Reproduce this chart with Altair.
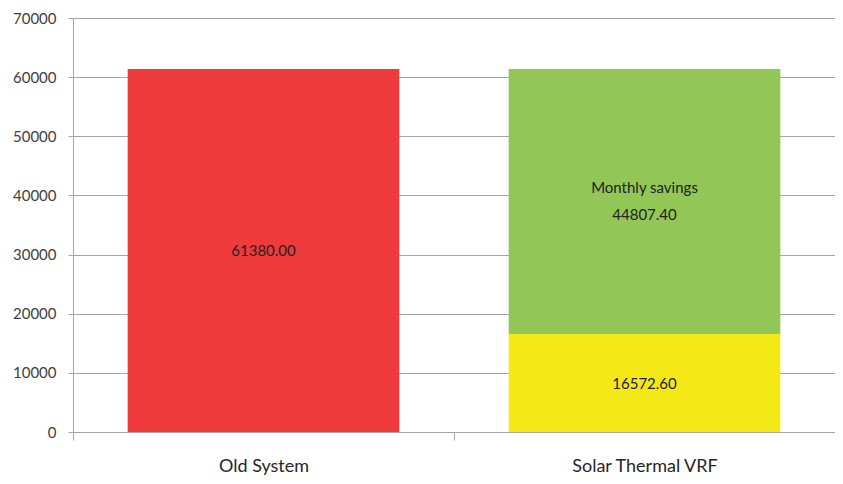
import altair as alt
import pandas as pd

categories = ["Old System", "Solar Thermal VRF", "Solar Thermal VRF"]
segments = ["Old cost", "New cost", "Monthly savings"]
values = [61380.00, 16572.60, 44807.40]
labels = ["61380.00", "16572.60", "Monthly savings\n44807.40"]
stack_order = [0, 0, 1]
seg_colors = ["#EF3B3C", "#F4E917", "#92C657"]
y_ticks = [0, 10000, 20000, 30000, 40000, 50000, 60000, 70000]

df = pd.DataFrame({
    "category": categories,
    "segment": segments,
    "value": values,
    "label": labels,
    "ord": stack_order,
})

FONT = "Lato"
CAT_ORDER = ["Old System", "Solar Thermal VRF"]

base = alt.Chart(df).transform_stack(
    stack="value", groupby=["category"], as_=["y0", "y1"],
    sort=[alt.SortField("ord", order="ascending")],
).transform_calculate(mid="(datum.y0 + datum.y1) / 2")

x_scale = alt.Scale(domain=CAT_ORDER, paddingInner=0, paddingOuter=0)
y_scale = alt.Scale(domain=[0, 70000], nice=False)

bars = base.mark_bar(width=alt.RelativeBandSize(0.713)).encode(
    x=alt.X(
        "category:N", scale=x_scale,
        axis=alt.Axis(
            title=None, labelAngle=0, tickBand="extent", tickSize=8,
            labelPadding=17, labelFontSize=18, labelFont=FONT, labelColor="#262626",
            domainColor="#A6A6A6", tickColor="#A6A6A6", grid=False,
        ),
    ),
    y=alt.Y(
        "y0:Q", scale=y_scale,
        axis=alt.Axis(
            title=None, values=y_ticks, format="d", tickSize=5,
            labelPadding=12, labelFontSize=15, labelFont=FONT, labelColor="#404040",
            domainColor="#A6A6A6", tickColor="#A6A6A6",
            gridColor="#A6A6A6", gridWidth=1,
        ),
    ),
    y2="y1:Q",
    color=alt.Color("segment:N", scale=alt.Scale(domain=segments, range=seg_colors), legend=None),
)

def label_layer(is_multi, dy):
    return base.transform_filter(
        f"indexof(datum.label, '\\n') {'>=' if is_multi else '<'} 0"
    ).mark_text(
        lineBreak="\n", font=FONT, fontSize=15, color="#222222",
        baseline="middle", lineHeight=27, dy=dy,
    ).encode(
        x=alt.X("category:N", scale=x_scale),
        y=alt.Y("mid:Q", scale=y_scale),
        text="label:N",
    )

chart = alt.layer(bars, label_layer(False, 1), label_layer(True, -13)).properties(
    width=762, height=414,
    autosize=alt.AutoSizeParams(type="none"),
    padding={"left": 65, "top": 10, "right": 0, "bottom": 44},
).configure_view(stroke=None).configure(background="white")

chart.save("out.html", embed_options={"renderer": "svg", "actions": False})
